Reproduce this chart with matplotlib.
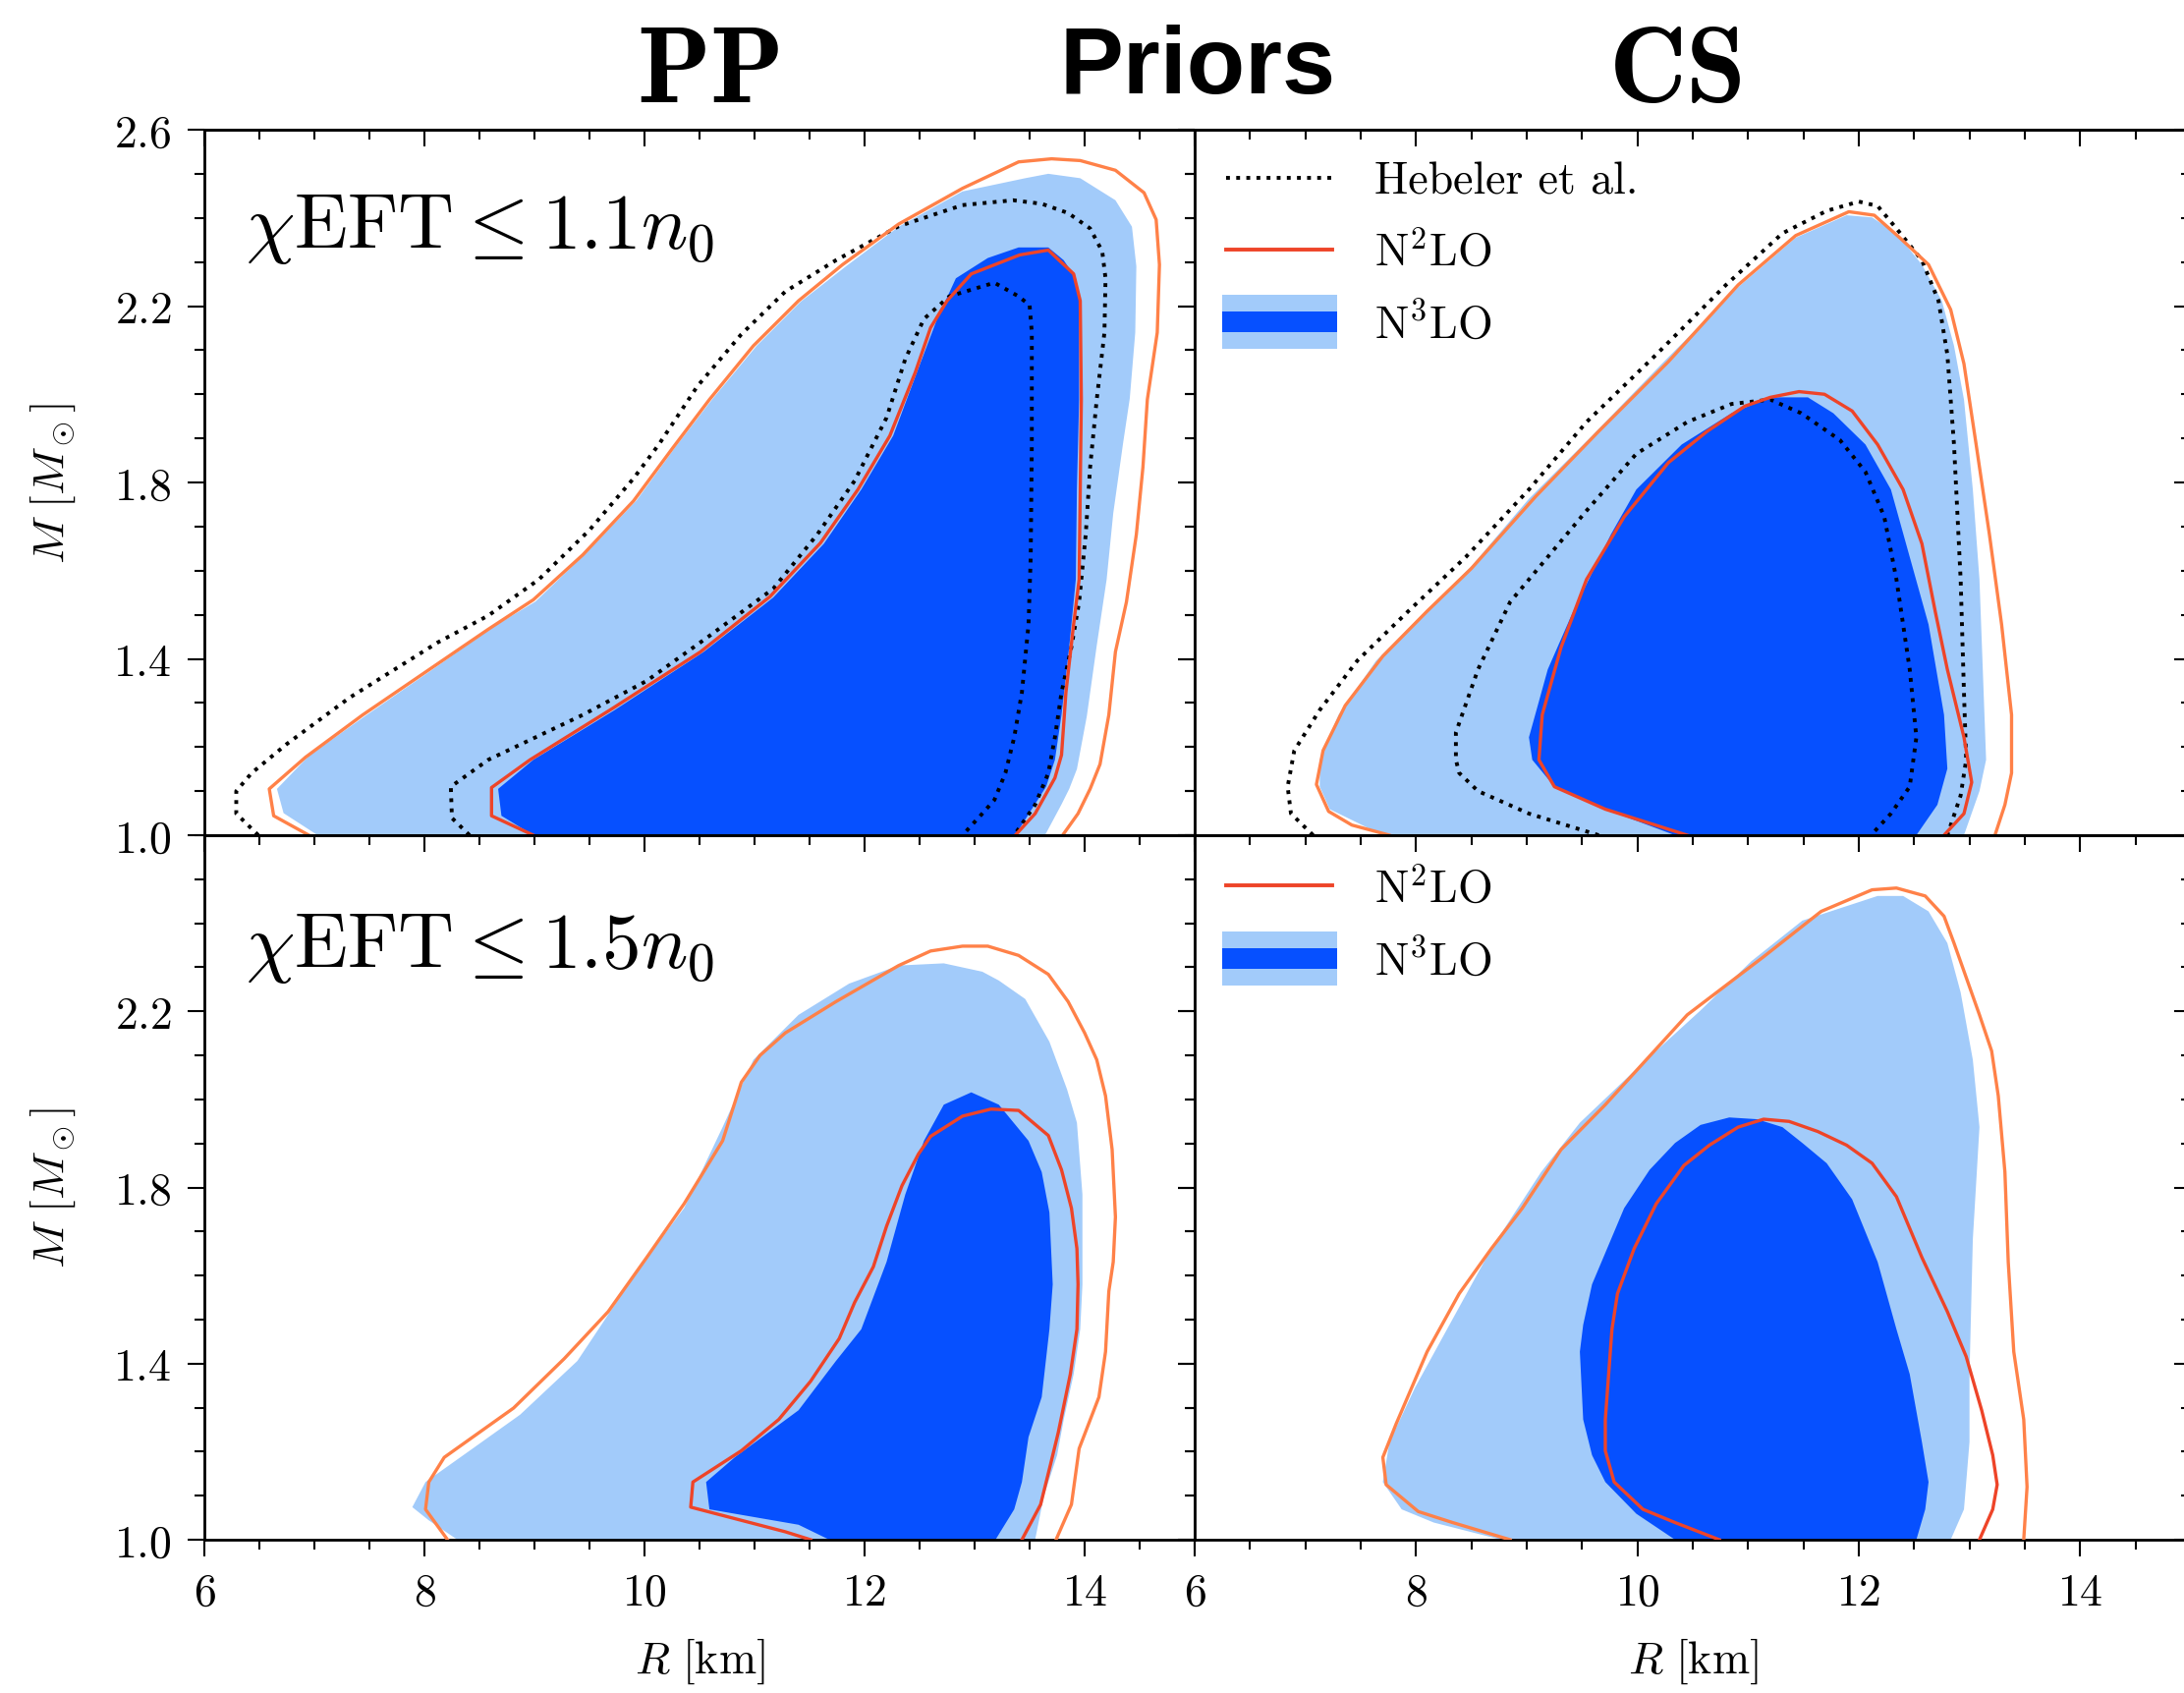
import matplotlib
matplotlib.use("Agg")
import matplotlib.pyplot as plt
from matplotlib.ticker import MultipleLocator
from matplotlib.lines import Line2D
from matplotlib.patches import Rectangle
from matplotlib.legend_handler import HandlerBase

plt.rcParams['font.family'] = 'cmr10'
plt.rcParams['mathtext.fontset'] = 'cm'
plt.rcParams['axes.formatter.use_mathtext'] = True

# ---------------- data (R [km], M [Msun]) ----------------
# Panel PP, chiEFT <= 1.1 n0
pp11_n3lo95_R = [7.03, 6.72, 6.66, 6.95, 7.46, 8.04, 8.61, 9.01, 9.47, 9.93, 10.28, 10.62, 11.02, 11.42, 11.83, 12.31, 12.89, 13.46, 13.67, 13.96, 14.28, 14.43, 14.47, 14.46, 14.41, 14.35, 14.26, 14.20, 14.11, 14.02, 13.93, 13.86, 13.79, 13.64]
pp11_n3lo95_M = [1.00, 1.05, 1.105, 1.18, 1.27, 1.37, 1.47, 1.53, 1.64, 1.76, 1.88, 1.99, 2.11, 2.21, 2.29, 2.38, 2.46, 2.49, 2.50, 2.49, 2.44, 2.38, 2.29, 2.14, 1.99, 1.89, 1.73, 1.58, 1.43, 1.27, 1.15, 1.105, 1.07, 1.00]
pp11_n3lo68_R = [8.99, 8.70, 8.67, 8.99, 9.73, 10.54, 11.17, 11.63, 11.97, 12.26, 12.49, 12.66, 12.83, 13.12, 13.40, 13.67, 13.81, 13.92, 13.95, 13.95, 13.93, 13.92, 13.86, 13.79, 13.73, 13.65, 13.52, 13.37]
pp11_n3lo68_M = [1.00, 1.044, 1.105, 1.171, 1.284, 1.416, 1.539, 1.661, 1.784, 1.906, 2.059, 2.171, 2.263, 2.309, 2.333, 2.333, 2.304, 2.263, 2.212, 1.988, 1.784, 1.580, 1.427, 1.273, 1.171, 1.110, 1.059, 1.00]
pp11_n2lo95_R = [6.95, 6.63, 6.59, 6.92, 7.44, 8.01, 8.58, 8.99, 9.44, 9.90, 10.25, 10.59, 10.99, 11.40, 11.80, 12.31, 12.89, 13.40, 13.70, 13.96, 14.28, 14.54, 14.65, 14.68, 14.66, 14.57, 14.53, 14.47, 14.38, 14.28, 14.22, 14.14, 14.05, 13.94, 13.80]
pp11_n2lo95_M = [1.00, 1.044, 1.105, 1.177, 1.273, 1.370, 1.467, 1.534, 1.636, 1.758, 1.876, 1.988, 2.110, 2.212, 2.294, 2.386, 2.467, 2.527, 2.534, 2.530, 2.508, 2.457, 2.396, 2.294, 2.14, 1.988, 1.835, 1.682, 1.529, 1.416, 1.273, 1.161, 1.105, 1.049, 1.00]
pp11_n2lo68_R = [8.99, 8.61, 8.61, 8.96, 9.70, 10.51, 11.14, 11.60, 11.94, 12.23, 12.46, 12.60, 12.75, 12.97, 13.41, 13.67, 13.90, 13.96, 13.97, 13.96, 13.95, 13.90, 13.83, 13.79, 13.73, 13.55, 13.37]
pp11_n2lo68_M = [1.00, 1.044, 1.108, 1.171, 1.286, 1.416, 1.541, 1.663, 1.784, 1.906, 2.049, 2.151, 2.212, 2.273, 2.316, 2.327, 2.273, 2.212, 1.988, 1.784, 1.580, 1.478, 1.324, 1.182, 1.130, 1.049, 1.00]
pp11_heb95_R = [6.49, 6.29, 6.29, 6.43, 6.75, 7.32, 8.12, 8.58, 9.04, 9.50, 9.90, 10.13, 10.48, 10.88, 11.28, 11.74, 12.31, 12.89, 13.35, 13.61, 13.85, 14.05, 14.16, 14.19, 14.18, 14.11, 14.05, 14.01, 13.95, 13.88, 13.79, 13.73, 13.67, 13.55, 13.36]
pp11_heb95_M = [1.00, 1.049, 1.10, 1.141, 1.207, 1.312, 1.437, 1.498, 1.580, 1.692, 1.809, 1.886, 2.018, 2.136, 2.233, 2.304, 2.381, 2.429, 2.44, 2.432, 2.411, 2.376, 2.324, 2.263, 2.14, 1.988, 1.835, 1.682, 1.529, 1.427, 1.324, 1.222, 1.141, 1.069, 1.00]
pp11_heb68_R = [8.41, 8.25, 8.24, 8.58, 9.44, 10.02, 10.59, 11.17, 11.57, 11.91, 12.20, 12.37, 12.54, 12.77, 13.18, 13.40, 13.50, 13.52, 13.52, 13.51, 13.49, 13.43, 13.36, 13.28, 13.18, 13.07, 12.89]
pp11_heb68_M = [1.00, 1.039, 1.110, 1.171, 1.273, 1.35, 1.452, 1.559, 1.682, 1.804, 1.947, 2.080, 2.171, 2.222, 2.253, 2.222, 2.202, 2.14, 1.886, 1.631, 1.478, 1.324, 1.222, 1.141, 1.080, 1.049, 1.00]

# Panel CS, chiEFT <= 1.1 n0
cs11_n3lo95_R = [7.70, 7.22, 7.13, 7.13, 7.30, 7.64, 8.05, 8.50, 9.02, 9.59, 10.22, 10.91, 11.43, 11.89, 12.12, 12.34, 12.57, 12.75, 12.86, 12.95, 13.03, 13.09, 13.12, 13.15, 13.09, 12.95]
cs11_n3lo95_M = [1.00, 1.059, 1.110, 1.171, 1.273, 1.396, 1.498, 1.610, 1.763, 1.906, 2.069, 2.243, 2.355, 2.406, 2.401, 2.365, 2.294, 2.212, 2.110, 1.988, 1.784, 1.580, 1.376, 1.171, 1.10, 1.00]
cs11_n3lo68_R = [10.34, 9.71, 9.25, 9.05, 9.02, 9.19, 9.42, 9.76, 9.99, 10.40, 10.85, 11.20, 11.54, 11.77, 12.06, 12.29, 12.46, 12.63, 12.77, 12.80, 12.71, 12.52]
cs11_n3lo68_M = [1.00, 1.059, 1.110, 1.171, 1.222, 1.376, 1.508, 1.682, 1.784, 1.886, 1.957, 1.993, 1.993, 1.957, 1.886, 1.784, 1.631, 1.478, 1.273, 1.151, 1.069, 1.00]
cs11_n2lo95_R = [7.76, 7.42, 7.21, 7.10, 7.16, 7.36, 7.70, 8.10, 8.50, 9.08, 9.65, 10.28, 10.91, 11.43, 11.91, 12.14, 12.37, 12.63, 12.83, 12.95, 13.06, 13.18, 13.29, 13.38, 13.38, 13.32, 13.23]
cs11_n2lo95_M = [1.00, 1.023, 1.054, 1.115, 1.192, 1.294, 1.406, 1.508, 1.605, 1.768, 1.916, 2.074, 2.248, 2.36, 2.414, 2.406, 2.355, 2.294, 2.192, 2.069, 1.886, 1.682, 1.478, 1.273, 1.141, 1.069, 1.00]
cs11_n2lo68_R = [10.45, 9.71, 9.25, 9.11, 9.14, 9.31, 9.54, 9.88, 10.28, 10.63, 10.97, 11.20, 11.46, 11.69, 11.94, 12.17, 12.40, 12.57, 12.69, 12.80, 12.95, 13.02, 12.95, 12.77]
cs11_n2lo68_M = [1.00, 1.059, 1.110, 1.171, 1.273, 1.426, 1.580, 1.722, 1.845, 1.916, 1.973, 1.993, 2.006, 2.0, 1.962, 1.886, 1.784, 1.661, 1.508, 1.376, 1.222, 1.120, 1.049, 1.00]
cs11_heb95_R = [7.07, 6.87, 6.84, 6.90, 7.13, 7.47, 7.93, 8.45, 9.02, 9.54, 10.17, 10.80, 11.31, 11.71, 12.00, 12.17, 12.34, 12.57, 12.72, 12.80, 12.86, 12.92, 12.95, 12.97, 12.92, 12.80]
cs11_heb95_M = [1.00, 1.049, 1.110, 1.192, 1.284, 1.396, 1.508, 1.631, 1.784, 1.937, 2.090, 2.248, 2.365, 2.416, 2.437, 2.427, 2.376, 2.304, 2.212, 2.090, 1.886, 1.580, 1.324, 1.171, 1.090, 1.00]
cs11_heb68_R = [9.65, 9.02, 8.56, 8.39, 8.36, 8.36, 8.56, 8.85, 9.19, 9.53, 9.99, 10.45, 10.85, 11.20, 11.48, 11.83, 12.06, 12.23, 12.34, 12.46, 12.52, 12.46, 12.29, 12.11]
cs11_heb68_M = [1.00, 1.049, 1.10, 1.141, 1.171, 1.233, 1.376, 1.529, 1.631, 1.733, 1.865, 1.937, 1.978, 1.988, 1.957, 1.896, 1.824, 1.722, 1.580, 1.376, 1.222, 1.110, 1.049, 1.00]

# Panel PP, chiEFT <= 1.5 n0
pp15_n3lo95_R = [8.30, 8.04, 7.89, 8.01, 8.41, 8.87, 9.39, 9.96, 10.36, 10.71, 10.99, 11.40, 11.86, 12.31, 12.72, 13.07, 13.22, 13.46, 13.68, 13.84, 13.93, 13.98, 13.98, 13.96, 13.90, 13.81, 13.75, 13.63, 13.55]
pp15_n3lo95_M = [1.00, 1.044, 1.074, 1.131, 1.202, 1.284, 1.406, 1.620, 1.753, 1.937, 2.090, 2.192, 2.263, 2.304, 2.309, 2.29, 2.27, 2.228, 2.131, 2.023, 1.947, 1.784, 1.580, 1.478, 1.376, 1.273, 1.192, 1.10, 1.00]
pp15_n3lo68_R = [11.68, 11.40, 10.59, 10.56, 10.82, 11.40, 11.74, 11.97, 12.20, 12.37, 12.54, 12.72, 12.97, 13.22, 13.49, 13.61, 13.68, 13.71, 13.68, 13.61, 13.49, 13.43, 13.36, 13.19]
pp15_n3lo68_M = [1.00, 1.034, 1.069, 1.131, 1.187, 1.294, 1.406, 1.478, 1.631, 1.784, 1.906, 1.988, 2.016, 1.988, 1.906, 1.835, 1.743, 1.580, 1.478, 1.324, 1.233, 1.131, 1.069, 1.00]
pp15_n2lo95_R = [8.21, 8.01, 8.04, 8.18, 8.81, 9.27, 9.67, 10.02, 10.36, 10.71, 10.88, 11.05, 11.28, 11.74, 12.31, 12.60, 12.89, 13.12, 13.40, 13.67, 13.85, 14.00, 14.11, 14.19, 14.25, 14.28, 14.26, 14.22, 14.19, 14.13, 13.95, 13.88, 13.74]
pp15_n2lo95_M = [1.00, 1.069, 1.131, 1.187, 1.299, 1.411, 1.518, 1.641, 1.763, 1.906, 2.039, 2.10, 2.151, 2.222, 2.304, 2.337, 2.348, 2.348, 2.327, 2.284, 2.222, 2.151, 2.090, 2.008, 1.886, 1.733, 1.631, 1.564, 1.427, 1.324, 1.207, 1.080, 1.00]
pp15_n2lo68_R = [11.51, 11.28, 10.42, 10.44, 10.88, 11.22, 11.51, 11.77, 11.91, 12.08, 12.20, 12.34, 12.49, 12.60, 12.89, 13.15, 13.40, 13.67, 13.79, 13.88, 13.93, 13.94, 13.93, 13.87, 13.76, 13.69, 13.60, 13.43]
pp15_n2lo68_M = [1.00, 1.018, 1.074, 1.131, 1.202, 1.273, 1.360, 1.457, 1.539, 1.620, 1.712, 1.804, 1.876, 1.916, 1.962, 1.978, 1.975, 1.918, 1.840, 1.753, 1.661, 1.580, 1.478, 1.376, 1.243, 1.171, 1.080, 1.00]

# Panel CS, chiEFT <= 1.5 n0
cs15_n3lo95_R = [8.77, 8.16, 7.87, 7.70, 7.76, 7.99, 8.28, 8.68, 9.13, 9.48, 9.99, 10.57, 11.03, 11.49, 12.17, 12.40, 12.63, 12.80, 12.92, 13.03, 13.09, 13.03, 13.00, 13.00, 12.95, 12.83]
cs15_n3lo95_M = [1.00, 1.039, 1.069, 1.131, 1.222, 1.345, 1.478, 1.661, 1.835, 1.947, 2.069, 2.202, 2.314, 2.406, 2.462, 2.462, 2.427, 2.355, 2.243, 2.090, 1.937, 1.682, 1.376, 1.222, 1.069, 1.00]
cs15_n3lo68_R = [10.34, 9.99, 9.71, 9.59, 9.51, 9.48, 9.51, 9.59, 9.88, 10.11, 10.34, 10.57, 10.83, 11.08, 11.31, 11.49, 11.71, 11.94, 12.17, 12.34, 12.46, 12.57, 12.63, 12.60, 12.52]
cs15_n3lo68_M = [1.00, 1.059, 1.131, 1.192, 1.273, 1.427, 1.488, 1.580, 1.753, 1.840, 1.901, 1.942, 1.959, 1.955, 1.937, 1.901, 1.855, 1.773, 1.631, 1.478, 1.376, 1.222, 1.131, 1.069, 1.00]
cs15_n2lo95_R = [8.85, 8.33, 8.02, 7.73, 7.70, 7.82, 8.10, 8.39, 8.68, 8.96, 9.31, 9.71, 10.45, 11.14, 11.66, 12.12, 12.34, 12.60, 12.77, 12.86, 13.09, 13.20, 13.26, 13.32, 13.35, 13.40, 13.49, 13.52, 13.49]
cs15_n2lo95_M = [1.00, 1.039, 1.064, 1.125, 1.187, 1.263, 1.427, 1.559, 1.661, 1.753, 1.886, 1.988, 2.192, 2.324, 2.427, 2.476, 2.480, 2.462, 2.416, 2.355, 2.192, 2.110, 2.008, 1.835, 1.631, 1.427, 1.273, 1.120, 1.00]
cs15_n2lo68_R = [10.74, 10.34, 10.05, 9.79, 9.71, 9.71, 9.74, 9.77, 9.82, 9.97, 10.17, 10.42, 10.65, 10.91, 11.14, 11.37, 11.63, 11.89, 12.12, 12.34, 12.57, 12.80, 12.97, 13.11, 13.21, 13.25, 13.21, 13.09]
cs15_n2lo68_M = [1.00, 1.039, 1.069, 1.131, 1.202, 1.273, 1.376, 1.478, 1.559, 1.661, 1.763, 1.850, 1.896, 1.937, 1.955, 1.950, 1.927, 1.896, 1.855, 1.779, 1.641, 1.518, 1.416, 1.294, 1.192, 1.125, 1.069, 1.00]

column_titles = ['PP', 'CS']
row_labels = [r'$\chi\mathrm{EFT} \leq 1.1n_0$', r'$\chi\mathrm{EFT} \leq 1.5n_0$']
legend_labels = ['Hebeler et al.', r'$\mathrm{N}^2\mathrm{LO}$', r'$\mathrm{N}^3\mathrm{LO}$']
x_major = [6, 8, 10, 12, 14]
y_major_top = [1.0, 1.4, 1.8, 2.2, 2.6]
y_major_bottom = [1.0, 1.4, 1.8, 2.2]

# ---------------- styles ----------------
LIGHT = '#A2CBFA'
DARK = '#0650FF'
ORANGE = '#FF8148'
RED = '#EE4428'
FS = 33

fig = plt.figure(figsize=(22.23, 17.24), dpi=100)
W, H = 2223.0, 1724.0
pos = {
    (0, 0): [208 / W, 1 - 851 / H, 1008 / W, 718 / H],
    (0, 1): [1216 / W, 1 - 851 / H, 1014 / W, 718 / H],
    (1, 0): [208 / W, 1 - 1568 / H, 1008 / W, 717 / H],
    (1, 1): [1216 / W, 1 - 1568 / H, 1014 / W, 717 / H],
}

panels = {
    (0, 0): dict(n3lo95=(pp11_n3lo95_R, pp11_n3lo95_M), n3lo68=(pp11_n3lo68_R, pp11_n3lo68_M),
                 n2lo95=(pp11_n2lo95_R, pp11_n2lo95_M), n2lo68=(pp11_n2lo68_R, pp11_n2lo68_M),
                 heb=[(pp11_heb95_R, pp11_heb95_M), (pp11_heb68_R, pp11_heb68_M)]),
    (0, 1): dict(n3lo95=(cs11_n3lo95_R, cs11_n3lo95_M), n3lo68=(cs11_n3lo68_R, cs11_n3lo68_M),
                 n2lo95=(cs11_n2lo95_R, cs11_n2lo95_M), n2lo68=(cs11_n2lo68_R, cs11_n2lo68_M),
                 heb=[(cs11_heb95_R, cs11_heb95_M), (cs11_heb68_R, cs11_heb68_M)]),
    (1, 0): dict(n3lo95=(pp15_n3lo95_R, pp15_n3lo95_M), n3lo68=(pp15_n3lo68_R, pp15_n3lo68_M),
                 n2lo95=(pp15_n2lo95_R, pp15_n2lo95_M), n2lo68=(pp15_n2lo68_R, pp15_n2lo68_M),
                 heb=[]),
    (1, 1): dict(n3lo95=(cs15_n3lo95_R, cs15_n3lo95_M), n3lo68=(cs15_n3lo68_R, cs15_n3lo68_M),
                 n2lo95=(cs15_n2lo95_R, cs15_n2lo95_M), n2lo68=(cs15_n2lo68_R, cs15_n2lo68_M),
                 heb=[]),
}


class BandHandler(HandlerBase):
    def create_artists(self, legend, orig_handle, xdescent, ydescent, width, height, fontsize, trans):
        yc = -ydescent + height / 2.0
        h_out = 1.2 * fontsize
        h_in = 0.45 * fontsize
        x0 = -xdescent - 0.08 * fontsize
        w = width + 0.2 * fontsize
        r1 = Rectangle((x0, yc - h_out / 2), w, h_out, facecolor=LIGHT, edgecolor='none', transform=trans)
        r2 = Rectangle((x0, yc - h_in / 2), w, h_in, facecolor=DARK, edgecolor='none', transform=trans)
        return [r1, r2]


class BandDummy:
    pass


for (r, c), p in panels.items():
    ax = fig.add_axes(pos[(r, c)])
    ax.fill(*p['n3lo95'], color=LIGHT, lw=0, zorder=1)
    ax.fill(*p['n3lo68'], color=DARK, lw=0, zorder=2)
    for hr, hm in p['heb']:
        ax.plot(hr, hm, color='black', ls=':', lw=2.8, zorder=3)
    ax.plot(*p['n2lo95'], color=ORANGE, lw=2.4, zorder=4)
    ax.plot(*p['n2lo68'], color=RED, lw=2.4, zorder=5)

    ax.set_xlim(6, 15)
    ax.set_ylim(1.0, 2.6)
    for s in ax.spines.values():
        s.set_linewidth(2.0)
    ax.set_xticks(x_major)
    ax.xaxis.set_minor_locator(MultipleLocator(0.5))
    ax.set_yticks(y_major_top if r == 0 else y_major_bottom)
    ax.yaxis.set_minor_locator(MultipleLocator(0.1))
    ax.tick_params(which='both', direction='out', top=False, right=False, width=1.5, labelsize=FS, pad=12)
    ax.tick_params(which='major', length=12)
    ax.tick_params(which='minor', length=7)
    if r == 0:
        ax.tick_params(labelbottom=False)
    else:
        ax.set_xlabel(r'$R\ [\mathrm{km}]$', fontsize=FS, labelpad=16)
    if c == 1:
        ax.tick_params(labelleft=False)
    else:
        ax.set_ylabel(r'$M\ [M_\odot]$', fontsize=FS, labelpad=26)

    # inward ticks on top and right
    sx = ax.secondary_xaxis('top')
    sx.set_xticks(x_major)
    sx.xaxis.set_minor_locator(MultipleLocator(0.5))
    sx.tick_params(which='both', direction='in', width=1.5, labeltop=False)
    sx.tick_params(which='major', length=12)
    sx.tick_params(which='minor', length=7)
    sx.spines['top'].set_linewidth(2.0)
    sy = ax.secondary_yaxis('right')
    sy.set_yticks(y_major_top)
    sy.yaxis.set_minor_locator(MultipleLocator(0.1))
    sy.tick_params(which='both', direction='in', width=1.5, labelright=False)
    sy.tick_params(which='major', length=12)
    sy.tick_params(which='minor', length=7)
    sy.spines['right'].set_linewidth(2.0)

    if c == 0:
        ax.text(0.042, 0.86 if r == 0 else 0.84, row_labels[r], transform=ax.transAxes,
                fontsize=57, va='center', ha='left')
    else:
        h_heb = Line2D([], [], color='black', ls=':', lw=2.8)
        h_n2 = Line2D([], [], color=RED, lw=2.8)
        h_n3 = BandDummy()
        if r == 0:
            hs, ls = [h_heb, h_n2, h_n3], legend_labels
        else:
            hs, ls = [h_n2, h_n3], legend_labels[1:]
        ax.legend(hs, ls, loc='upper left', bbox_to_anchor=(0.0, 1.0), frameon=False,
                  fontsize=FS, handlelength=2.35, handletextpad=0.95, labelspacing=0.62,
                  borderaxespad=0.25, borderpad=0.45,
                  handler_map={BandDummy: BandHandler()})

fig.text(723 / W, 1 - 76 / H, column_titles[0], fontsize=79, ha='center', va='center', family='cmb10')
fig.text(1708 / W, 1 - 76 / H, column_titles[1], fontsize=79, ha='center', va='center', family='cmb10')
fig.text(1219 / W, 1 - 70 / H, 'Priors', fontsize=70, ha='center', va='center',
         family='Liberation Sans', weight='bold')

fig.savefig('out.png', dpi=100)
